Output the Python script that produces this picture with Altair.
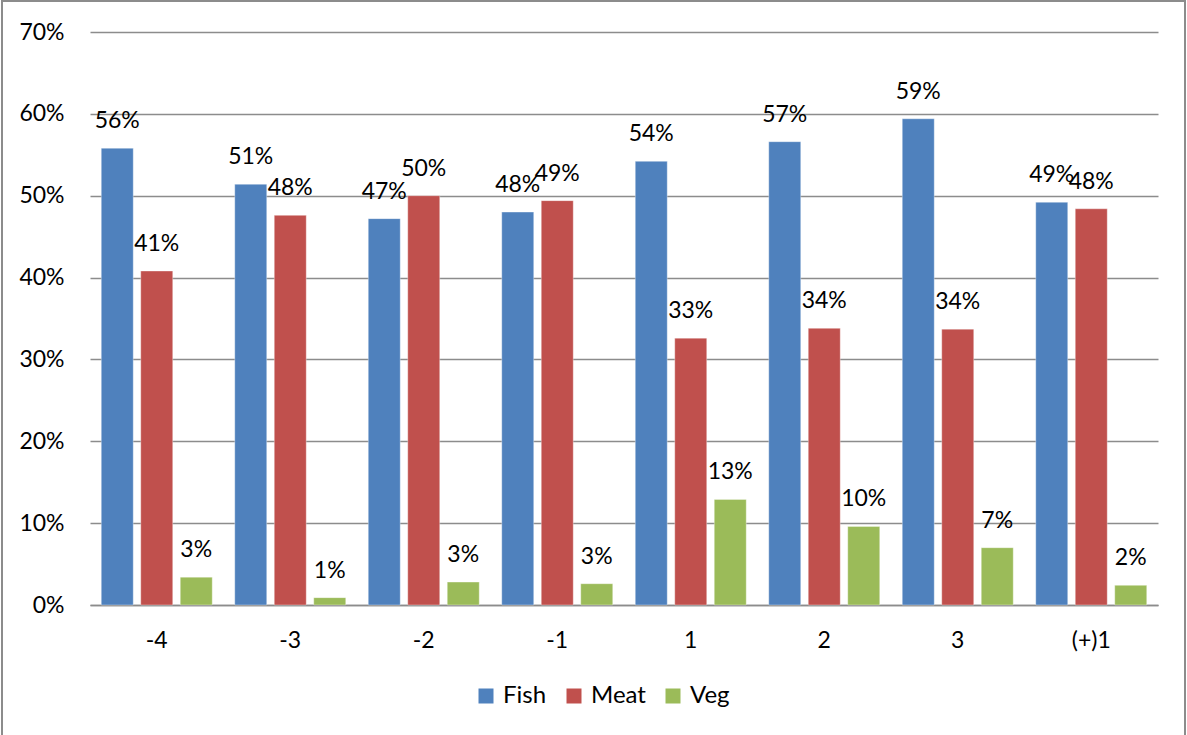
import altair as alt
import pandas as pd

categories = ["-4", "-3", "-2", "-1", "1", "2", "3", "(+)1"]
series = ["Fish", "Meat", "Veg"]
fish = [0.558, 0.514, 0.472, 0.480, 0.542, 0.566, 0.594, 0.492]
meat = [0.408, 0.476, 0.500, 0.494, 0.326, 0.338, 0.337, 0.484]
veg = [0.034, 0.009, 0.028, 0.026, 0.129, 0.096, 0.070, 0.024]
colors = ["#4F81BD", "#C0504D", "#9BBB59"]
y_ticks = [0, 0.1, 0.2, 0.3, 0.4, 0.5, 0.6, 0.7]

rows = []
for s, vals in zip(series, [fish, meat, veg]):
    for c, v in zip(categories, vals):
        rows.append({"cat": c, "series": s, "value": v})
df = pd.DataFrame(rows)

FONT = "Lato"
FS = 23

x_enc = alt.X("cat:N", sort=categories, title=None,
              scale=alt.Scale(paddingInner=0, paddingOuter=0),
              axis=alt.Axis(labelAngle=0, ticks=False, labelPadding=24,
                            domainColor="#8c8c8c", domainWidth=1.5,
                            labelFontSize=FS, labelFont=FONT, labelColor="black"))
xo_enc = alt.XOffset("series:N", sort=series,
                     scale=alt.Scale(paddingInner=0.19, paddingOuter=0.285))
y_enc = alt.Y("value:Q", title=None,
              scale=alt.Scale(domain=[0, 0.7], nice=False),
              axis=alt.Axis(values=y_ticks, format=".0%", domain=False, ticks=False,
                            labelPadding=26, gridColor="#8c8c8c", gridWidth=1.5,
                            labelFontSize=FS, labelFont=FONT, labelColor="black"))

base = alt.Chart(df)

bars = base.mark_bar(stroke="white", strokeOpacity=0.35, strokeWidth=1).encode(
    x=x_enc, xOffset=xo_enc, y=y_enc,
    color=alt.Color("series:N", sort=series, title=None,
                    scale=alt.Scale(domain=series, range=colors),
                    legend=alt.Legend(orient="none", direction="horizontal",
                                      legendX=384, legendY=652,
                                      symbolType="square", symbolSize=225,
                                      symbolStrokeWidth=0, labelOffset=5,
                                      columnPadding=15,
                                      labelFontSize=FS + 1, labelFont=FONT,
                                      labelColor="black")),
)

labels = base.mark_text(baseline="alphabetic", align="center", dy=-20,
                        fontSize=FS, font=FONT, color="black").encode(
    x=alt.X("cat:N", sort=categories),
    xOffset=alt.XOffset("series:N", sort=series),
    y=alt.Y("value:Q"),
    text=alt.Text("value:Q", format=".0%"),
)

frame = alt.Chart(pd.DataFrame({"a": [0]})).mark_rect(
    fillOpacity=0, stroke="#8c8c8c", strokeWidth=2).encode(
    x=alt.value(-88), x2=alt.value(1095), y=alt.value(-31), y2=alt.value(710))

chart = alt.layer(bars, labels, frame).properties(
    width=1068, height=573,
    autosize=alt.AutoSizeParams(type="none"),
    padding={"left": 90, "top": 32, "right": 29, "bottom": 130},
    background="white",
).configure_view(stroke=None)

chart.save("out.html", embed_options={"renderer": "svg", "actions": False})
